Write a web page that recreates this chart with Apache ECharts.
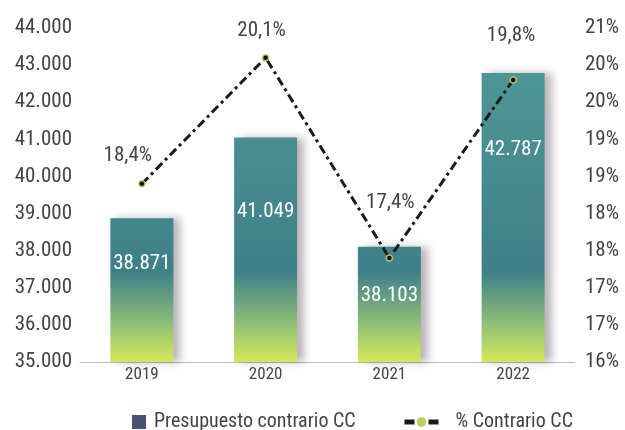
<!DOCTYPE html>
<html>
<head>
<meta charset="utf-8">
<script src="https://cdn.jsdelivr.net/npm/echarts@6/dist/echarts.min.js"></script>
<style>
  html, body { margin: 0; padding: 0; background: #fff; }
  #chart { width: 625px; height: 430px; }
</style>
</head>
<body>
<div id="chart"></div>
<script>
// Budget figures and share per year
const years = ['2019', '2020', '2021', '2022'];
const presupuesto = [38871, 41049, 38103, 42787];
const porcentaje = [18.4, 20.1, 17.4, 19.8];

// Label placement tweaks (pixels)
const barLabelDrop = [35, 64, 38, 66];
const pctLabelShift = [[-14, -9], [-4, -8], [1, -36], [-2, -25]];

const FONT = "'Roboto Condensed', 'Liberation Sans Narrow', Roboto, sans-serif";
const TEXT = '#444';

const fmtThousands = v => String(Math.round(v)).replace(/\B(?=(\d{3})+(?!\d))/g, '.');
const fmtPct = v => v.toFixed(1).replace('.', ',') + '%';

const barGradient = {
  type: 'linear', global: true,
  x: 0, y: 80, x2: 0, y2: 362,
  colorStops: [
    { offset: 0, color: '#4e9595' },
    { offset: 0.68, color: '#3e8088' },
    { offset: 0.86, color: '#8dbd78' },
    { offset: 1, color: '#d3e95a' }
  ]
};

const chart = echarts.init(document.getElementById('chart'), null, { renderer: 'canvas' });

chart.setOption({
  animation: false,
  textStyle: { fontFamily: FONT },
  grid: { left: 80, right: 50, top: 28, bottom: 68 },
  legend: [
    {
      left: 127, top: 407,
      itemWidth: 14, itemHeight: 14,
      textStyle: { fontFamily: FONT, fontSize: 20, color: TEXT, padding: [0, 0, 0, 3] },
      data: [{ name: 'Presupuesto contrario CC', icon: 'rect',
        itemStyle: { color: '#4a5472', shadowBlur: 0, shadowOffsetX: 0 } }]
    },
    {
      left: 397, top: 407,
      itemWidth: 34, itemHeight: 12,
      textStyle: { fontFamily: FONT, fontSize: 20, color: TEXT, padding: [0, 0, 0, 12] },
      itemStyle: { color: '#b9cf55', borderWidth: 0 },
      lineStyle: { color: '#1a1a1a', width: 5, type: [10, 14], dashOffset: 0 },
      data: [{ name: '% Contrario CC' }]
    }
  ],
  xAxis: {
    type: 'category',
    data: years,
    axisLine: { lineStyle: { color: '#bbb', width: 1 } },
    axisTick: { show: false },
    axisLabel: { color: TEXT, fontSize: 17, margin: 4, fontFamily: FONT }
  },
  yAxis: [
    {
      type: 'value', min: 35000, max: 44000, interval: 1000,
      splitLine: { show: false }, axisLine: { show: false }, axisTick: { show: false },
      axisLabel: { color: TEXT, fontSize: 21, margin: 8, fontFamily: FONT, formatter: fmtThousands }
    },
    {
      type: 'value', min: 16, max: 20.5, interval: 0.5,
      splitLine: { show: false }, axisLine: { show: false }, axisTick: { show: false },
      axisLabel: { color: TEXT, fontSize: 21, margin: 10, fontFamily: FONT,
        formatter: v => Math.round(v) + '%' }
    }
  ],
  series: [
    {
      name: 'Presupuesto contrario CC',
      type: 'bar',
      barWidth: 63,
      yAxisIndex: 0,
      itemStyle: {
        color: barGradient,
        shadowColor: 'rgba(60,40,60,0.35)',
        shadowBlur: 8,
        shadowOffsetX: 7,
        shadowOffsetY: 0
      },
      data: presupuesto.map((v, i) => ({
        value: v,
        label: {
          show: true, position: 'insideTop', distance: barLabelDrop[i],
          color: '#fff', fontSize: 21, fontFamily: FONT,
          formatter: p => fmtThousands(p.value)
        }
      })),
      z: 2
    },
    {
      name: '% Contrario CC',
      type: 'line',
      yAxisIndex: 1,
      symbol: 'circle',
      symbolSize: 6,
      itemStyle: { color: '#111', borderColor: 'rgba(215,205,100,0.85)', borderWidth: 1.5 },
      lineStyle: { color: '#1a1a1a', width: 3, type: [9, 4, 3, 4] },
      data: porcentaje.map((v, i) => ({
        value: v,
        label: {
          show: true, position: 'top', offset: pctLabelShift[i],
          color: TEXT, fontSize: 21, fontFamily: FONT,
          formatter: p => fmtPct(p.value)
        }
      })),
      z: 5
    }
  ]
});
</script>
</body>
</html>
